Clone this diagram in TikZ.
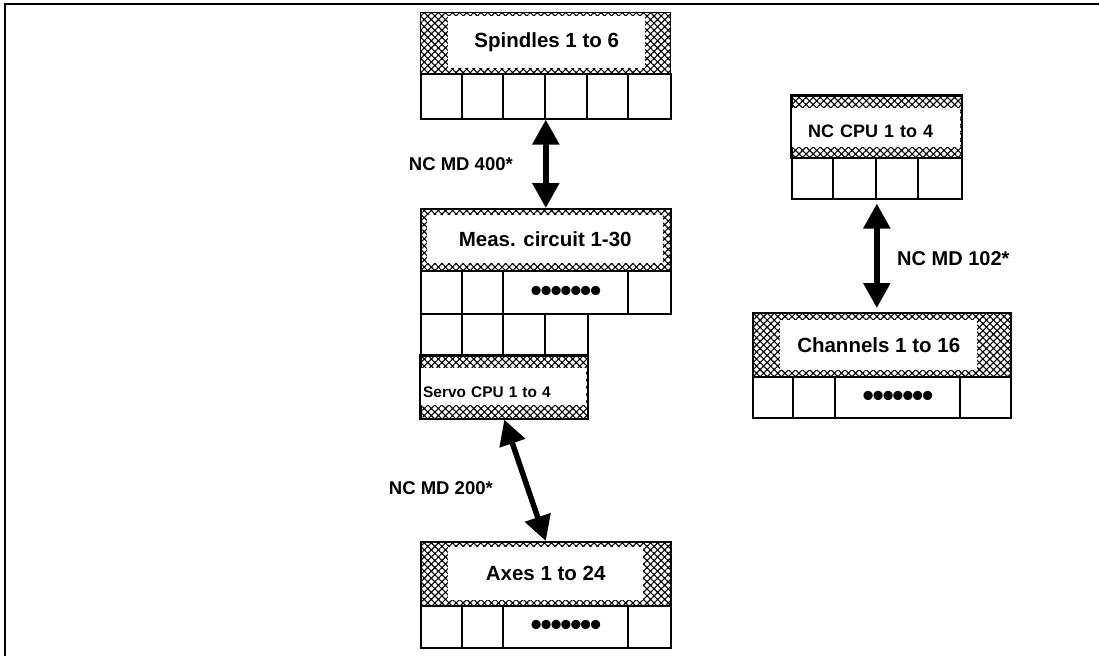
\documentclass[tikz,border=0pt]{standalone}
\usepackage{fontspec}
\setmainfont{Liberation Sans}
\usetikzlibrary{arrows.meta,patterns.meta}

\newcommand{\dotrow}{•\kern-1.3pt•\kern-1.3pt•\kern-1.3pt•\kern-1.3pt•\kern-1.3pt•\kern-1.3pt•}

\begin{document}
\begin{tikzpicture}[x=1pt,y=-1pt,
  hdr/.style={draw=black,line width=1.6pt,inner sep=0pt,anchor=north west,
              pattern={Hatch[angle=45,distance=5pt,line width=1.1pt]}},
  ttl/.style={fill=white,inner sep=0pt,anchor=north west,align=center,
              font=\fontsize{20.5}{24}\selectfont\bfseries},
  rim/.style={draw=black,line width=1.6pt},
  cellrow/.style={draw=black,line width=1.6pt,inner sep=0pt,anchor=north west},
  divider/.style={line width=1.6pt},
  dots/.style={inner sep=0pt,font=\fontsize{32}{34}\selectfont\bfseries},
  arr/.style={{Triangle[length=25pt,width=26pt]}-{Triangle[length=25pt,width=26pt]},line width=5.5pt},
  lbl/.style={inner sep=0pt,font=\fontsize{18.5}{22}\selectfont\bfseries}
]
\useasboundingbox (0,0) rectangle (1099,656);
\draw[line width=2pt] (5,656) -- (5,4) -- (1099,4);

% spindles
\node[hdr,minimum width=250pt,minimum height=61pt] (spin) at (420,12) {};
\node[ttl,minimum width=197pt,minimum height=52pt] (spinttl) at (448,16) {Spindles 1 to 6};
\node[cellrow,minimum width=250pt,minimum height=45pt] (spinrow) at (420,73) {};
\foreach \x in {462,503,545,587,628} \draw[divider] (\x,73) -- (\x,118);

% measuring circuits and servo cpu
\node[hdr,minimum width=250pt,minimum height=62pt] (meas) at (420,208) {};
\node[ttl,minimum width=236pt,minimum height=48pt] (measttl) at (427,215) {Meas. circuit 1-30};
\node[cellrow,minimum width=250pt,minimum height=43pt] (measrow) at (420,270) {};
\foreach \x in {462,503,628} \draw[divider] (\x,270) -- (\x,313);
\node[dots] (measdots) at (566,294) {\dotrow};
\node[cellrow,minimum width=167pt,minimum height=42pt] (servorow) at (420,313) {};
\foreach \x in {462,503,545} \draw[divider] (\x,313) -- (\x,355);
\node[hdr,minimum width=167pt,minimum height=63pt] (servo) at (420,355) {};
\node[ttl,align=left,inner xsep=2.2pt,text width=161pt,minimum height=37pt,
      text height=22pt,text depth=0pt,font=\fontsize{15.4}{18}\selectfont\bfseries]
      (servottl) at (420.8,368) {Servo CPU 1 to 4};
\draw[rim] (servo.north west) rectangle (servo.south east);

% axes
\node[hdr,minimum width=250pt,minimum height=64pt] (axes) at (420,541) {};
\node[ttl,minimum width=195pt,minimum height=53pt] (axesttl) at (448,547) {Axes 1 to 24};
\node[cellrow,minimum width=250pt,minimum height=42pt] (axesrow) at (420,605) {};
\foreach \x in {462,503,628} \draw[divider] (\x,605) -- (\x,647);
\node[dots] (axesdots) at (566,628) {\dotrow};

% nc cpu
\node[hdr,minimum width=170pt,minimum height=62pt] (nccpu) at (791,95) {};
\node[ttl,align=left,inner xsep=16.2pt,text width=136pt,minimum height=39pt,
      text height=19pt,text depth=0pt,font=\fontsize{18}{22}\selectfont\bfseries]
      (nccputtl) at (791.8,108) {NC CPU 1 to 4};
\draw[rim] (nccpu.north west) rectangle (nccpu.south east);
\node[cellrow,minimum width=170pt,minimum height=41pt] (ncrow) at (791,157) {};
\foreach \x in {833,876,918} \draw[divider] (\x,157) -- (\x,198);

% channels
\node[hdr,minimum width=258pt,minimum height=64pt] (chan) at (752,312) {};
\node[ttl,minimum width=197pt,minimum height=50pt] (chanttl) at (780,320) {Channels 1 to 16};
\node[cellrow,minimum width=258pt,minimum height=41pt] (chanrow) at (752,376) {};
\foreach \x in {793,835,960} \draw[divider] (\x,376) -- (\x,417);
\node[dots] (chandots) at (898,399) {\dotrow};

% machine data links
\draw[arr] (spinrow.south) -- (meas.north);
\draw[arr] (servo.south) -- (axes.north);
\draw[arr,shorten <=4pt,shorten >=4pt] (ncrow.south) -- (ncrow.south |- chan.north);

\node[lbl,anchor=east] (md400) at (513,164) {NC MD 400*};
\node[lbl,anchor=east] (md200) at (493,488) {NC MD 200*};
\node[lbl,anchor=west,font=\fontsize{20}{24}\selectfont\bfseries] (md102) at (897,259) {NC MD 102*};
\end{tikzpicture}
\end{document}
